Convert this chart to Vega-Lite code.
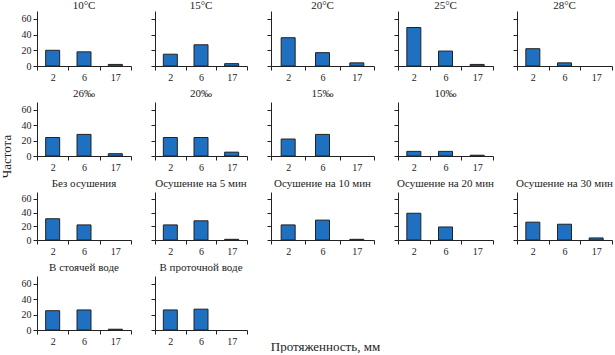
{
  "$schema": "https://vega.github.io/schema/vega-lite/v6.json",
  "padding": {"left": 0, "top": 0, "right": 0, "bottom": 0},
  "background": "white",
  "data": {"values": [
    {"p": "10°C", "x": "2", "n": 20}, {"p": "10°C", "x": "6", "n": 18}, {"p": "10°C", "x": "17", "n": 2},
    {"p": "15°C", "x": "2", "n": 15}, {"p": "15°C", "x": "6", "n": 27}, {"p": "15°C", "x": "17", "n": 3},
    {"p": "20°C", "x": "2", "n": 36}, {"p": "20°C", "x": "6", "n": 17}, {"p": "20°C", "x": "17", "n": 4},
    {"p": "25°C", "x": "2", "n": 49}, {"p": "25°C", "x": "6", "n": 19}, {"p": "25°C", "x": "17", "n": 2},
    {"p": "28°C", "x": "2", "n": 22}, {"p": "28°C", "x": "6", "n": 4}, {"p": "28°C", "x": "17", "n": 0},
    {"p": "26‰", "x": "2", "n": 24}, {"p": "26‰", "x": "6", "n": 28}, {"p": "26‰", "x": "17", "n": 3},
    {"p": "20‰", "x": "2", "n": 24}, {"p": "20‰", "x": "6", "n": 24}, {"p": "20‰", "x": "17", "n": 5},
    {"p": "15‰", "x": "2", "n": 22}, {"p": "15‰", "x": "6", "n": 28}, {"p": "15‰", "x": "17", "n": 0},
    {"p": "10‰", "x": "2", "n": 6}, {"p": "10‰", "x": "6", "n": 6}, {"p": "10‰", "x": "17", "n": 1},
    {"p": "Без осушения", "x": "2", "n": 31}, {"p": "Без осушения", "x": "6", "n": 22}, {"p": "Без осушения", "x": "17", "n": 0},
    {"p": "Осушение на 5 мин", "x": "2", "n": 22}, {"p": "Осушение на 5 мин", "x": "6", "n": 28}, {"p": "Осушение на 5 мин", "x": "17", "n": 1},
    {"p": "Осушение на 10 мин", "x": "2", "n": 22}, {"p": "Осушение на 10 мин", "x": "6", "n": 29}, {"p": "Осушение на 10 мин", "x": "17", "n": 1},
    {"p": "Осушение на 20 мин", "x": "2", "n": 39}, {"p": "Осушение на 20 мин", "x": "6", "n": 19}, {"p": "Осушение на 20 мин", "x": "17", "n": 0},
    {"p": "Осушение на 30 мин", "x": "2", "n": 26}, {"p": "Осушение на 30 мин", "x": "6", "n": 23}, {"p": "Осушение на 30 мин", "x": "17", "n": 3},
    {"p": "В стоячей воде", "x": "2", "n": 25}, {"p": "В стоячей воде", "x": "6", "n": 26}, {"p": "В стоячей воде", "x": "17", "n": 1},
    {"p": "В проточной воде", "x": "2", "n": 26}, {"p": "В проточной воде", "x": "6", "n": 27}, {"p": "В проточной воде", "x": "17", "n": 0}
  ]},
  "concat": [
      {"width": 94, "height": 55, "title": {"text": "10°C", "offset": 0}, "transform": [{"filter": "datum.p === '10°C'"}], "mark": {"type": "bar", "width": 14},
       "encoding": {"x": {"field": "x", "type": "nominal", "sort": ["2", "6", "17"], "axis": {"title": null}}, "y": {"field": "n", "type": "quantitative", "scale": {"domain": [0, 70]}, "axis": {"title": null, "values": [0, 20, 40, 60]}}, "strokeOpacity": {"condition": {"test": "datum.n > 0", "value": 1}, "value": 0}}},
      {"width": 92, "height": 55, "title": {"text": "15°C", "offset": 0}, "transform": [{"filter": "datum.p === '15°C'"}], "mark": {"type": "bar", "width": 14},
       "encoding": {"x": {"field": "x", "type": "nominal", "sort": ["2", "6", "17"], "axis": {"title": null}}, "y": {"field": "n", "type": "quantitative", "scale": {"domain": [0, 70]}, "axis": {"title": null, "labels": false, "values": [0, 20, 40, 60]}}, "strokeOpacity": {"condition": {"test": "datum.n > 0", "value": 1}, "value": 0}}},
      {"width": 103, "height": 55, "title": {"text": "20°C", "offset": 0}, "transform": [{"filter": "datum.p === '20°C'"}], "mark": {"type": "bar", "width": 14},
       "encoding": {"x": {"field": "x", "type": "nominal", "sort": ["2", "6", "17"], "axis": {"title": null}}, "y": {"field": "n", "type": "quantitative", "scale": {"domain": [0, 70]}, "axis": {"title": null, "labels": false, "values": [0, 20, 40, 60]}}, "strokeOpacity": {"condition": {"test": "datum.n > 0", "value": 1}, "value": 0}}},
      {"width": 95, "height": 55, "title": {"text": "25°C", "offset": 0}, "transform": [{"filter": "datum.p === '25°C'"}], "mark": {"type": "bar", "width": 14},
       "encoding": {"x": {"field": "x", "type": "nominal", "sort": ["2", "6", "17"], "axis": {"title": null}}, "y": {"field": "n", "type": "quantitative", "scale": {"domain": [0, 70]}, "axis": {"title": null, "labels": false, "values": [0, 20, 40, 60]}}, "strokeOpacity": {"condition": {"test": "datum.n > 0", "value": 1}, "value": 0}}},
      {"width": 95, "height": 55, "title": {"text": "28°C", "offset": 0}, "transform": [{"filter": "datum.p === '28°C'"}], "mark": {"type": "bar", "width": 14},
       "encoding": {"x": {"field": "x", "type": "nominal", "sort": ["2", "6", "17"], "axis": {"title": null}}, "y": {"field": "n", "type": "quantitative", "scale": {"domain": [0, 70]}, "axis": {"title": null, "labels": false, "values": [0, 20, 40, 60]}}, "strokeOpacity": {"condition": {"test": "datum.n > 0", "value": 1}, "value": 0}}},
      {"width": 94, "height": 54, "title": "26‰", "transform": [{"filter": "datum.p === '26‰'"}], "mark": {"type": "bar", "width": 14},
       "encoding": {"x": {"field": "x", "type": "nominal", "sort": ["2", "6", "17"], "axis": {"title": null}}, "y": {"field": "n", "type": "quantitative", "scale": {"domain": [0, 70]}, "axis": {"title": "Частота", "titleFont": "Liberation Serif", "titleFontSize": 13, "titleFontWeight": "normal", "titleColor": "#222", "titleX": -31, "titleY": 54, "titleAlign": "center", "titleBaseline": "middle", "titleAngle": -90, "values": [0, 20, 40, 60]}}, "strokeOpacity": {"condition": {"test": "datum.n > 0", "value": 1}, "value": 0}}},
      {"width": 92, "height": 54, "title": "20‰", "transform": [{"filter": "datum.p === '20‰'"}], "mark": {"type": "bar", "width": 14},
       "encoding": {"x": {"field": "x", "type": "nominal", "sort": ["2", "6", "17"], "axis": {"title": null}}, "y": {"field": "n", "type": "quantitative", "scale": {"domain": [0, 70]}, "axis": {"title": null, "labels": false, "values": [0, 20, 40, 60]}}, "strokeOpacity": {"condition": {"test": "datum.n > 0", "value": 1}, "value": 0}}},
      {"width": 103, "height": 54, "title": "15‰", "transform": [{"filter": "datum.p === '15‰'"}], "mark": {"type": "bar", "width": 14},
       "encoding": {"x": {"field": "x", "type": "nominal", "sort": ["2", "6", "17"], "axis": {"title": null}}, "y": {"field": "n", "type": "quantitative", "scale": {"domain": [0, 70]}, "axis": {"title": null, "labels": false, "values": [0, 20, 40, 60]}}, "strokeOpacity": {"condition": {"test": "datum.n > 0", "value": 1}, "value": 0}}},
      {"width": 95, "height": 54, "title": "10‰", "transform": [{"filter": "datum.p === '10‰'"}], "mark": {"type": "bar", "width": 14},
       "encoding": {"x": {"field": "x", "type": "nominal", "sort": ["2", "6", "17"], "axis": {"title": null}}, "y": {"field": "n", "type": "quantitative", "scale": {"domain": [0, 70]}, "axis": {"title": null, "labels": false, "values": [0, 20, 40, 60]}}, "strokeOpacity": {"condition": {"test": "datum.n > 0", "value": 1}, "value": 0}}},
      {"width": 95, "height": 54, "transform": [{"filter": "false"}], "mark": {"type": "bar", "width": 14},
       "encoding": {"x": {"field": "x", "type": "nominal", "axis": null}, "y": {"field": "n", "type": "quantitative", "axis": null}}},
      {"width": 94, "height": 48, "title": "Без осушения", "transform": [{"filter": "datum.p === 'Без осушения'"}], "mark": {"type": "bar", "width": 14},
       "encoding": {"x": {"field": "x", "type": "nominal", "sort": ["2", "6", "17"], "axis": {"title": null}}, "y": {"field": "n", "type": "quantitative", "scale": {"domain": [0, 70]}, "axis": {"title": null, "values": [0, 20, 40, 60]}}, "strokeOpacity": {"condition": {"test": "datum.n > 0", "value": 1}, "value": 0}}},
      {"width": 92, "height": 48, "title": "Осушение на 5 мин", "transform": [{"filter": "datum.p === 'Осушение на 5 мин'"}], "mark": {"type": "bar", "width": 14},
       "encoding": {"x": {"field": "x", "type": "nominal", "sort": ["2", "6", "17"], "axis": {"title": null}}, "y": {"field": "n", "type": "quantitative", "scale": {"domain": [0, 70]}, "axis": {"title": null, "labels": false, "values": [0, 20, 40, 60]}}, "strokeOpacity": {"condition": {"test": "datum.n > 0", "value": 1}, "value": 0}}},
      {"width": 103, "height": 48, "title": "Осушение на 10 мин", "transform": [{"filter": "datum.p === 'Осушение на 10 мин'"}], "mark": {"type": "bar", "width": 14},
       "encoding": {"x": {"field": "x", "type": "nominal", "sort": ["2", "6", "17"], "axis": {"title": null}}, "y": {"field": "n", "type": "quantitative", "scale": {"domain": [0, 70]}, "axis": {"title": null, "labels": false, "values": [0, 20, 40, 60]}}, "strokeOpacity": {"condition": {"test": "datum.n > 0", "value": 1}, "value": 0}}},
      {"width": 95, "height": 48, "title": "Осушение на 20 мин", "transform": [{"filter": "datum.p === 'Осушение на 20 мин'"}], "mark": {"type": "bar", "width": 14},
       "encoding": {"x": {"field": "x", "type": "nominal", "sort": ["2", "6", "17"], "axis": {"title": null}}, "y": {"field": "n", "type": "quantitative", "scale": {"domain": [0, 70]}, "axis": {"title": null, "labels": false, "values": [0, 20, 40, 60]}}, "strokeOpacity": {"condition": {"test": "datum.n > 0", "value": 1}, "value": 0}}},
      {"width": 95, "height": 48, "title": "Осушение на 30 мин", "transform": [{"filter": "datum.p === 'Осушение на 30 мин'"}], "mark": {"type": "bar", "width": 14},
       "encoding": {"x": {"field": "x", "type": "nominal", "sort": ["2", "6", "17"], "axis": {"title": null}}, "y": {"field": "n", "type": "quantitative", "scale": {"domain": [0, 70]}, "axis": {"title": null, "labels": false, "values": [0, 20, 40, 60]}}, "strokeOpacity": {"condition": {"test": "datum.n > 0", "value": 1}, "value": 0}}},
      {"width": 94, "height": 54, "title": "В стоячей воде", "transform": [{"filter": "datum.p === 'В стоячей воде'"}], "mark": {"type": "bar", "width": 14},
       "encoding": {"x": {"field": "x", "type": "nominal", "sort": ["2", "6", "17"], "axis": {"title": null}}, "y": {"field": "n", "type": "quantitative", "scale": {"domain": [0, 70]}, "axis": {"title": null, "values": [0, 20, 40, 60]}}, "strokeOpacity": {"condition": {"test": "datum.n > 0", "value": 1}, "value": 0}}},
      {"width": 92, "height": 54, "title": "В проточной воде", "transform": [{"filter": "datum.p === 'В проточной воде'"}], "mark": {"type": "bar", "width": 14},
       "encoding": {"x": {"field": "x", "type": "nominal", "sort": ["2", "6", "17"], "axis": {"title": "Протяженность, мм", "titleFont": "Liberation Serif", "titleFontSize": 13, "titleFontWeight": "normal", "titleColor": "#222", "titleX": 170, "titleY": 16, "titleAlign": "center", "titleBaseline": "middle"}}, "y": {"field": "n", "type": "quantitative", "scale": {"domain": [0, 70]}, "axis": {"title": null, "labels": false, "values": [0, 20, 40, 60]}}, "strokeOpacity": {"condition": {"test": "datum.n > 0", "value": 1}, "value": 0}}}
  ],
  "columns": 5,
  "spacing": {"row": 36, "column": 24},
  "bounds": "flush",
  "config": {
    "view": {"stroke": null},
    "bar": {"fill": "#1f70c0", "stroke": "#222", "strokeWidth": 1},
    "scale": {"barBandPaddingInner": 0, "bandPaddingInner": 0, "bandPaddingOuter": 0},
    "axis": {"domainColor": "#222", "tickColor": "#222", "labelColor": "#222", "labelFont": "Liberation Serif", "labelFontSize": 10, "grid": false, "tickSize": 4, "labelPadding": 2},
    "axisX": {"labelAngle": 0, "tickBand": "extent"},
    "title": {"font": "Liberation Serif", "fontSize": 11, "fontWeight": "normal", "color": "#222", "offset": 3, "anchor": "middle"}
  }
}
